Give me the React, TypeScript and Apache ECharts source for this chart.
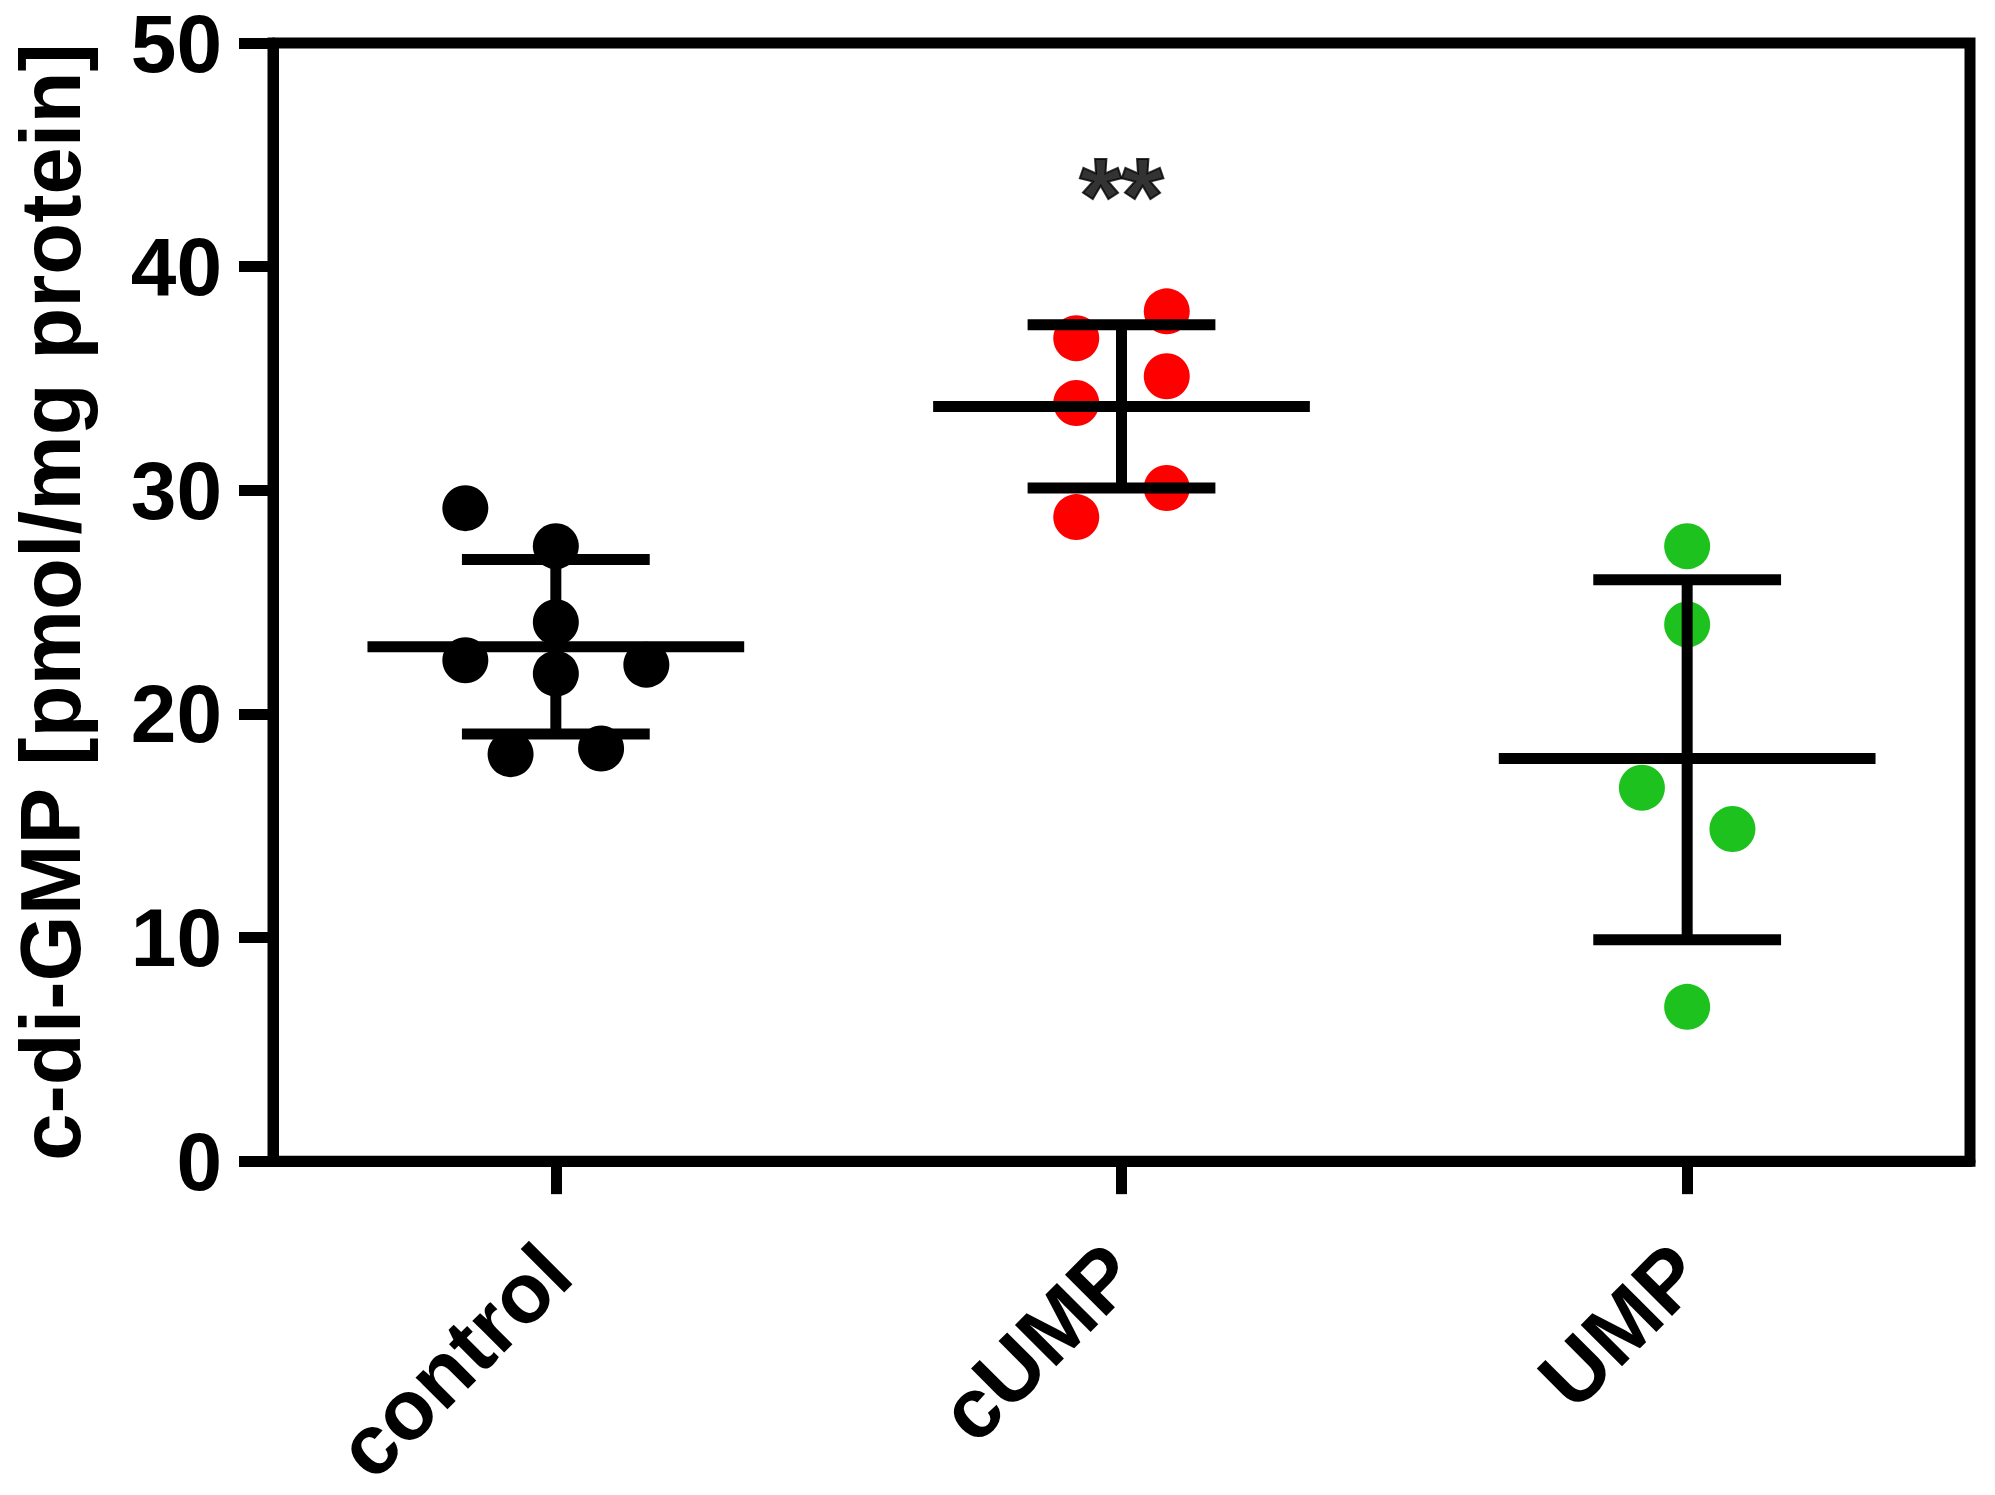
import React, { useEffect, useRef } from "react";
import * as echarts from "echarts";

const categories = ["control", "cUMP", "UMP"];
const yMin = 0;
const yMax = 50;
const yInterval = 10;

const controlValues = [29.2, 27.5, 24.1, 22.4, 22.2, 21.8, 18.2, 18.45];
const controlJitter = [-0.16, 0, 0, -0.16, 0.16, 0, -0.08, 0.08];
const cumpValues = [38.0, 36.8, 35.1, 33.9, 30.1, 28.8];
const cumpJitter = [0.08, -0.08, 0.08, -0.08, 0.08, -0.08];
const umpValues = [27.5, 24.0, 16.7, 14.85, 6.9];
const umpJitter = [0, 0, -0.08, 0.08, 0];

const means = [23.0, 33.75, 18.0];
const sdLower = [19.1, 30.1, 9.9];
const sdUpper = [26.9, 37.4, 26.0];

const annotationCategory = 1;
const annotationValue = 43.2;
const annotationText = "**";

const yAxisTitle = "c-di-GMP [pmol/mg protein]";

const FONT = "'Liberation Sans', Arial, sans-serif";

export default function App() {
  const ref = useRef<HTMLDivElement>(null);

  useEffect(() => {
    if (!ref.current) return;
    const chart = echarts.init(ref.current, null, { renderer: "svg" });

    const groups = [
      { values: controlValues, jitter: controlJitter, color: "#000000" },
      { values: cumpValues, jitter: cumpJitter, color: "#ff0000" },
      { values: umpValues, jitter: umpJitter, color: "#1ec21e" },
    ];

    const scatterSeries = groups.map((g, gi) => ({
      type: "scatter",
      name: categories[gi],
      xAxisIndex: 1,
      yAxisIndex: 0,
      symbol: "circle",
      symbolSize: 46,
      itemStyle: { color: g.color, opacity: 1 },
      z: 2,
      data: g.values.map((v, i) => [gi + g.jitter[i], v]),
    }));

    const option: any = {
      animation: false,
      backgroundColor: "#ffffff",
      grid: {
        left: 269,
        right: 25,
        top: 43,
        bottom: 318,
        show: true,
        borderColor: "#000000",
        borderWidth: 11,
        backgroundColor: "transparent",
      },
      xAxis: [
        {
          type: "category",
          data: categories,
          boundaryGap: true,
          axisLine: { show: true, onZero: false, lineStyle: { color: "#000", width: 11 } },
          axisTick: {
            show: true,
            alignWithLabel: true,
            length: 33,
            lineStyle: { color: "#000", width: 11 },
          },
          axisLabel: {
            show: true,
            interval: 0,
            rotate: 45,
            margin: 98,
            color: "#000",
            fontSize: 85,
            fontWeight: "bold",
            fontFamily: FONT,
          },
          splitLine: { show: false },
        },
        {
          type: "value",
          min: -0.5,
          max: 2.5,
          show: false,
          axisLine: { onZero: false },
          splitLine: { show: false },
        },
      ],
      yAxis: [
        {
          type: "value",
          min: yMin,
          max: yMax,
          interval: yInterval,
          name: yAxisTitle,
          nameLocation: "middle",
          nameRotate: 90,
          nameGap: 180,
          nameTextStyle: {
            color: "#000",
            fontSize: 85,
            fontWeight: "bold",
            fontFamily: FONT,
          },
          axisLine: { show: true, onZero: false, lineStyle: { color: "#000", width: 11 } },
          axisTick: {
            show: true,
            length: 34,
            lineStyle: { color: "#000", width: 11 },
          },
          axisLabel: {
            color: "#000",
            fontSize: 82,
            lineHeight: 80,
            fontWeight: "bold",
            fontFamily: FONT,
            margin: 51,
          },
          splitLine: { show: false },
        },
      ],
      series: [
        ...scatterSeries,
        {
          type: "custom",
          xAxisIndex: 0,
          yAxisIndex: 0,
          z: 3,
          encode: { x: 0, y: [1, 2, 3] },
          data: categories.map((c, i) => [i, means[i], sdLower[i], sdUpper[i]]),
          renderItem: (params: any, api: any) => {
            const xi = api.value(0);
            const mean = api.coord([xi, api.value(1)]);
            const lo = api.coord([xi, api.value(2)]);
            const hi = api.coord([xi, api.value(3)]);
            const band = api.size([1, 0])[0];
            const meanHalf = band * 0.333;
            const capHalf = band * 0.166;
            const style = { stroke: "#000", lineWidth: 11, fill: null };
            return {
              type: "group",
              children: [
                {
                  type: "line",
                  shape: { x1: mean[0], y1: hi[1], x2: mean[0], y2: lo[1] },
                  style,
                },
                {
                  type: "line",
                  shape: { x1: mean[0] - capHalf, y1: hi[1], x2: mean[0] + capHalf, y2: hi[1] },
                  style,
                },
                {
                  type: "line",
                  shape: { x1: mean[0] - capHalf, y1: lo[1], x2: mean[0] + capHalf, y2: lo[1] },
                  style,
                },
                {
                  type: "line",
                  shape: { x1: mean[0] - meanHalf, y1: mean[1], x2: mean[0] + meanHalf, y2: mean[1] },
                  style,
                },
              ],
            };
          },
        },
        {
          type: "scatter",
          name: "significance",
          xAxisIndex: 1,
          yAxisIndex: 0,
          symbolSize: 1,
          itemStyle: { color: "rgba(0,0,0,0)" },
          z: 4,
          label: {
            show: true,
            position: "inside",
            formatter: annotationText,
            color: "#000000",
            textBorderColor: "#000000",
            textBorderWidth: 2,
            fontSize: 108,
            fontWeight: "bold",
            fontFamily: FONT,
          },
          data: [[annotationCategory, annotationValue]],
        },
      ],
    };

    chart.setOption(option);
    return () => chart.dispose();
  }, []);

  return (
    <div
      ref={ref}
      style={{ position: "fixed", left: 0, top: 0, width: 1995, height: 1495, background: "#fff" }}
    />
  );
}
